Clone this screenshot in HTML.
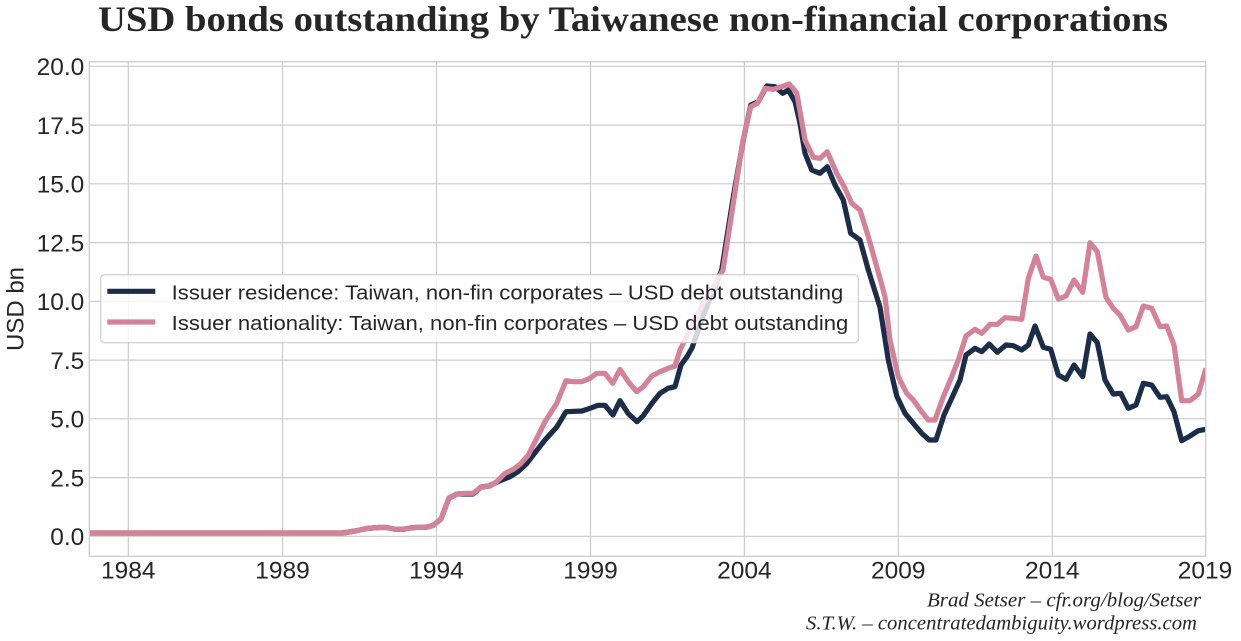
<!DOCTYPE html>
<html>
<head>
<meta charset="utf-8">
<style>
  html,body{margin:0;padding:0;background:#ffffff;}
  svg{display:block;}
</style>
</head>
<body>
<svg width="1241" height="641" viewBox="0 0 1241 641" xmlns="http://www.w3.org/2000/svg">
  <rect x="0" y="0" width="1241" height="641" fill="#ffffff"/>
  <!-- Title -->
  <text x="98" y="31" font-family="'Liberation Serif', serif" font-weight="bold" font-size="35.5" fill="#262626" textLength="1070" lengthAdjust="spacingAndGlyphs">USD bonds outstanding by Taiwanese non-financial corporations</text>

  <defs>
    <clipPath id="ax"><rect x="89.3" y="61.7" width="1116.4" height="494.6"/></clipPath>
  </defs>

  <!-- Grid -->
  <g stroke="#cccccc" stroke-width="1.2" fill="none">
    <line x1="89.3" x2="1205.7" y1="66.3" y2="66.3"/>
    <line x1="89.3" x2="1205.7" y1="125.1" y2="125.1"/>
    <line x1="89.3" x2="1205.7" y1="183.8" y2="183.8"/>
    <line x1="89.3" x2="1205.7" y1="242.6" y2="242.6"/>
    <line x1="89.3" x2="1205.7" y1="301.3" y2="301.3"/>
    <line x1="89.3" x2="1205.7" y1="360.1" y2="360.1"/>
    <line x1="89.3" x2="1205.7" y1="418.8" y2="418.8"/>
    <line x1="89.3" x2="1205.7" y1="477.6" y2="477.6"/>
    <line x1="89.3" x2="1205.7" y1="536.3" y2="536.3"/>
    <line y1="61.7" y2="556.3" x1="128.3" x2="128.3"/>
    <line y1="61.7" y2="556.3" x1="282.5" x2="282.5"/>
    <line y1="61.7" y2="556.3" x1="436.5" x2="436.5"/>
    <line y1="61.7" y2="556.3" x1="590.5" x2="590.5"/>
    <line y1="61.7" y2="556.3" x1="744.4" x2="744.4"/>
    <line y1="61.7" y2="556.3" x1="898.3" x2="898.3"/>
    <line y1="61.7" y2="556.3" x1="1052.3" x2="1052.3"/>
  </g>

  <!-- Series -->
  <g clip-path="url(#ax)" fill="none" stroke-width="5.2" stroke-linejoin="round" stroke-linecap="butt">
    <polyline stroke="#1c2d4a" points="89,533 343,533 355,531 367,528.5 378,527.5 387,527.5 395,529.3 403,529.3 410,528 418,527.3 426,527.3 433,525.5 441,519 449,498 457,494 465,494 473,494 481,487 489,486 497,482 510,476.7 518,471.7 527,463.3 535,452.7 545,440 557,426.7 566,411.7 582,411 590,408.3 598,405.3 605,405.3 613,415 620,400.7 628,413.3 637,421.7 643,416 652,403.3 660,393.3 668,388.3 675,386.7 681,365 687,356.7 692,348 703,316 713,292 721.7,270 733.3,196.7 743.3,140 750.7,105 758.3,101.7 766.7,86 775,86.7 782.7,93.3 788.3,90 795,101.7 800,123.3 805,153.3 811.7,170 820,173.3 827.3,166.7 835,185 843.3,200 850.7,233.3 860,240 868.3,270 880,307.3 888.3,360 896.7,396 905,413.3 913.3,423.3 921.7,433.3 929.3,440 936,440 944,415 951.7,398.3 960,380 966,355 975,348.3 981.7,351.7 989.3,344 997.3,352.3 1006,345 1013.3,345.7 1021.7,350 1028.3,345 1035,326 1043.3,347.3 1050.7,349.3 1058.3,375 1066,379.3 1074,365 1082.7,376.7 1090,334 1097.3,342.7 1105,380 1113.3,394 1120.7,393.3 1128.3,408.3 1136,405 1143.3,383.3 1151.7,385 1160,397.3 1166.7,396.7 1174,411.7 1181.7,440.7 1190,436 1198.3,430.7 1206,429.3"/>
    <polyline stroke="#d4819a" points="89,533 343,533 355,531 367,528.5 378,527.5 387,527.5 395,529.3 403,529.3 410,528 418,527.3 426,527.3 433,525.5 441,519 449,498 457,494 465,493.3 473,493.3 481.7,486.7 490,486 496.7,481.7 505,473.3 513.3,469.3 520,464.3 528.3,455 536.7,438.3 545,421.7 556.7,403.3 566,380.7 573.3,381.7 581.7,381.7 590,378.3 596.7,373.3 605,373.3 612.7,383.3 620,369.3 628.3,381.7 636.7,391.7 643.3,386.7 651.7,376 660,371.7 668.3,368.3 675,366 680,350 686,338 695,320 705,300 713,288 723,270 733.3,203.3 742.7,141.7 750.7,106.7 757.3,103.3 765,88.3 773.3,89.3 781.7,86.7 789.3,84 796.7,92.7 805,140 813.3,157.3 820,158.3 827.3,151.7 836.7,173.3 845,188.3 851.7,203.3 860,210 868.3,236.7 876.7,266.7 880,278.3 885,296.7 890,340 898.3,376.7 906.7,393.3 913.3,400 921.7,411.7 928.3,420 935,420 943.3,396.7 951.7,376.7 958.3,360 966,336 975,329.3 981.7,333.3 990,324.3 997.3,324.3 1005,317.7 1013.3,318.3 1021.7,319.3 1028.3,278.3 1036,256 1043.3,277.3 1050.7,279.3 1058.3,299 1066,296 1074,280 1082.7,292.3 1090,242.7 1097.3,251.7 1106,297.3 1113.3,308.3 1120,315 1128.3,330 1136,326.7 1143.3,306 1151.7,308.3 1160,326.7 1166.7,326 1174,345 1181.7,400.7 1190,400.7 1198.3,394 1206,368.3"/>
  </g>

  <!-- Spines -->
  <rect x="89.3" y="61.7" width="1116.4" height="494.6" fill="none" stroke="#cccccc" stroke-width="1.3"/>

  <!-- Legend -->
  <rect x="100.7" y="274.7" width="757.6" height="68" rx="4" ry="4" fill="#ffffff" fill-opacity="0.8" stroke="#cccccc" stroke-width="1.2"/>
  <line x1="107.3" x2="155.3" y1="291.3" y2="291.3" stroke="#1c2d4a" stroke-width="5.2"/>
  <line x1="107.3" x2="155.3" y1="322" y2="322" stroke="#d4819a" stroke-width="5.2"/>
  <g font-family="'Liberation Sans', Arial, sans-serif" font-size="20" fill="#262626">
    <text x="171.7" y="299.3" textLength="671.6" lengthAdjust="spacingAndGlyphs">Issuer residence: Taiwan, non-fin corporates – USD debt outstanding</text>
    <text x="171.7" y="330" textLength="676.6" lengthAdjust="spacingAndGlyphs">Issuer nationality: Taiwan, non-fin corporates – USD debt outstanding</text>
  </g>

  <!-- Y tick labels -->
  <g font-family="'Liberation Sans', Arial, sans-serif" font-size="24.5" fill="#262626" text-anchor="end">
    <text x="84.3" y="75.1">20.0</text>
    <text x="84.3" y="133.9">17.5</text>
    <text x="84.3" y="192.6">15.0</text>
    <text x="84.3" y="251.4">12.5</text>
    <text x="84.3" y="310.1">10.0</text>
    <text x="84.3" y="368.9">7.5</text>
    <text x="84.3" y="427.6">5.0</text>
    <text x="84.3" y="486.4">2.5</text>
    <text x="84.3" y="545.1">0.0</text>
  </g>

  <!-- X tick labels -->
  <g font-family="'Liberation Sans', Arial, sans-serif" font-size="24.5" fill="#262626" text-anchor="middle">
    <text x="128.3" y="578.3">1984</text>
    <text x="282.5" y="578.3">1989</text>
    <text x="436.5" y="578.3">1994</text>
    <text x="590.5" y="578.3">1999</text>
    <text x="744.4" y="578.3">2004</text>
    <text x="898.3" y="578.3">2009</text>
    <text x="1052.3" y="578.3">2014</text>
    <text x="1205" y="578.3">2019</text>
  </g>

  <!-- Y axis label -->
  <text transform="translate(23.5,309) rotate(-90)" font-family="'Liberation Sans', Arial, sans-serif" font-size="24" fill="#262626" text-anchor="middle">USD bn</text>

  <!-- Footer -->
  <g font-family="'Liberation Serif', serif" font-style="italic" font-size="19.5" fill="#262626">
    <text x="927" y="606.7" textLength="274" lengthAdjust="spacingAndGlyphs">Brad Setser – cfr.org/blog/Setser</text>
    <text x="806" y="629.3" textLength="391" lengthAdjust="spacingAndGlyphs">S.T.W. – concentratedambiguity.wordpress.com</text>
  </g>
</svg>
</body>
</html>
